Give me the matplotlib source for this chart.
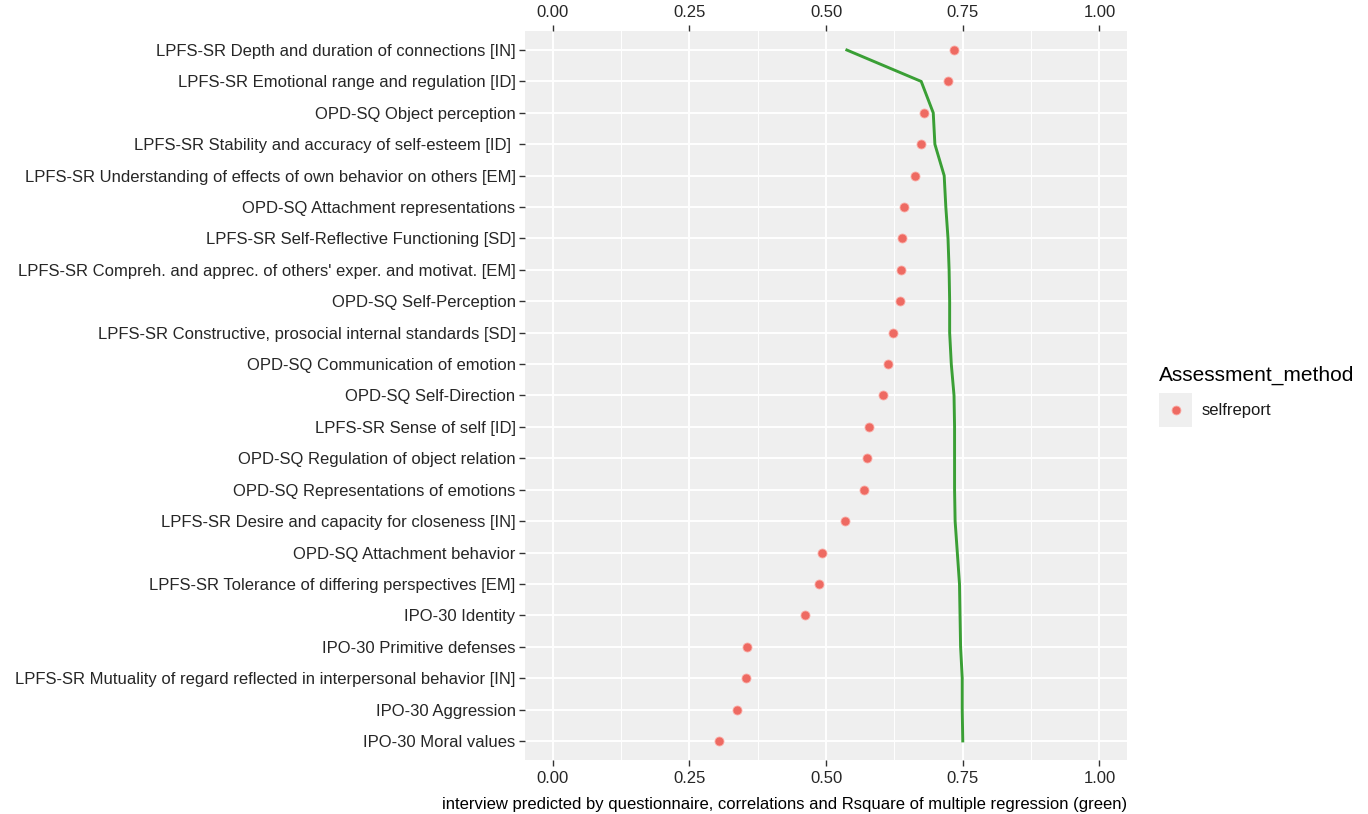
import matplotlib.pyplot as plt
from matplotlib.patches import Rectangle

plt.rcParams['font.family'] = ['Liberation Sans', 'DejaVu Sans']

# items, top to bottom
items = [
    "LPFS-SR Depth and duration of connections [IN]",
    "LPFS-SR Emotional range and regulation [ID]",
    "OPD-SQ Object perception",
    "LPFS-SR Stability and accuracy of self-esteem [ID] ",
    "LPFS-SR Understanding of effects of own behavior on others [EM]",
    "OPD-SQ Attachment representations",
    "LPFS-SR Self-Reflective Functioning [SD]",
    "LPFS-SR Compreh. and apprec. of others' exper. and motivat. [EM]",
    "OPD-SQ Self-Perception",
    "LPFS-SR Constructive, prosocial internal standards [SD]",
    "OPD-SQ Communication of emotion",
    "OPD-SQ Self-Direction",
    "LPFS-SR Sense of self [ID]",
    "OPD-SQ Regulation of object relation",
    "OPD-SQ Representations of emotions",
    "LPFS-SR Desire and capacity for closeness [IN]",
    "OPD-SQ Attachment behavior",
    "LPFS-SR Tolerance of differing perspectives [EM]",
    "IPO-30 Identity",
    "IPO-30 Primitive defenses",
    "LPFS-SR Mutuality of regard reflected in interpersonal behavior [IN]",
    "IPO-30 Aggression",
    "IPO-30 Moral values",
]

# correlations (red points)
correlation = [0.734, 0.723, 0.679, 0.673, 0.663, 0.642, 0.638, 0.637, 0.635,
               0.623, 0.613, 0.604, 0.578, 0.574, 0.570, 0.535, 0.493, 0.487,
               0.461, 0.356, 0.354, 0.337, 0.305]

# cumulative Rsquare of multiple regression (green line)
rsquare = [0.538, 0.674, 0.696, 0.699, 0.716, 0.719, 0.723, 0.725, 0.726,
           0.726, 0.729, 0.734, 0.735, 0.735, 0.735, 0.736, 0.740, 0.744,
           0.745, 0.746, 0.749, 0.749, 0.750]

xticks = [0.0, 0.25, 0.5, 0.75, 1.0]
xticklabels = ["0.00", "0.25", "0.50", "0.75", "1.00"]

W, H = 1368, 814
fig = plt.figure(figsize=(W / 100, H / 100), dpi=100)
ax = fig.add_axes([0.384, 0.0666, 0.4397, 0.8951])
ax.set_facecolor('#EFEFEF')

pos = list(range(len(items)))

ax.set_xticks([0.125, 0.375, 0.625, 0.875], minor=True)
ax.grid(True, which='major', color='white', linewidth=1.4)
ax.grid(True, which='minor', axis='x', color='white', linewidth=0.7)
ax.set_axisbelow(True)

ax.plot(rsquare, pos, color='#3A9F35', linewidth=2.1, zorder=3)
ax.scatter(correlation, pos, s=42, color='#EE6A62', edgecolor='#FBA9A3',
           linewidth=0.6, zorder=4)

ax.set_xlim(-0.05, 1.05)
ax.set_ylim(len(items) - 0.4, -0.6)
ax.set_yticks(pos)
ax.set_yticklabels(items)
ax.set_xticks(xticks)
ax.set_xticklabels(xticklabels)

for s in ax.spines.values():
    s.set_visible(False)

ax.tick_params(axis='both', which='major', length=4, width=1, color='#333333',
               labelsize=12, labelcolor='#262626', pad=3)
ax.tick_params(axis='x', which='minor', length=0)
ax.tick_params(axis='x', top=True, labeltop=True)
ax.tick_params(axis='x', which='major', pad=4)

ax.set_xlabel("interview predicted by questionnaire, correlations and Rsquare of multiple regression (green)",
              fontsize=12, color='black', labelpad=8, loc='right')

# legend drawn by hand (ggplot style key box)
def fx(px):
    return px / W

def fy(py):
    return 1 - py / H

fig.text(fx(1159), fy(375), 'Assessment_method', fontsize=15, color='black',
         ha='left', va='center')
fig.patches.append(Rectangle((fx(1159), fy(427)), fx(33), 34 / H,
                             transform=fig.transFigure, facecolor='#EFEFEF',
                             edgecolor='none'))
fig.add_artist(plt.Line2D([fx(1175.5)], [fy(410)], transform=fig.transFigure,
                          linestyle='none', marker='o', markersize=6.4,
                          markerfacecolor='#EE6A62', markeredgecolor='#FBA9A3',
                          markeredgewidth=0.6))
fig.text(fx(1202), fy(410), 'selfreport', fontsize=12, color='#1A1A1A',
         ha='left', va='center')

fig.savefig('out.png', dpi=100)
